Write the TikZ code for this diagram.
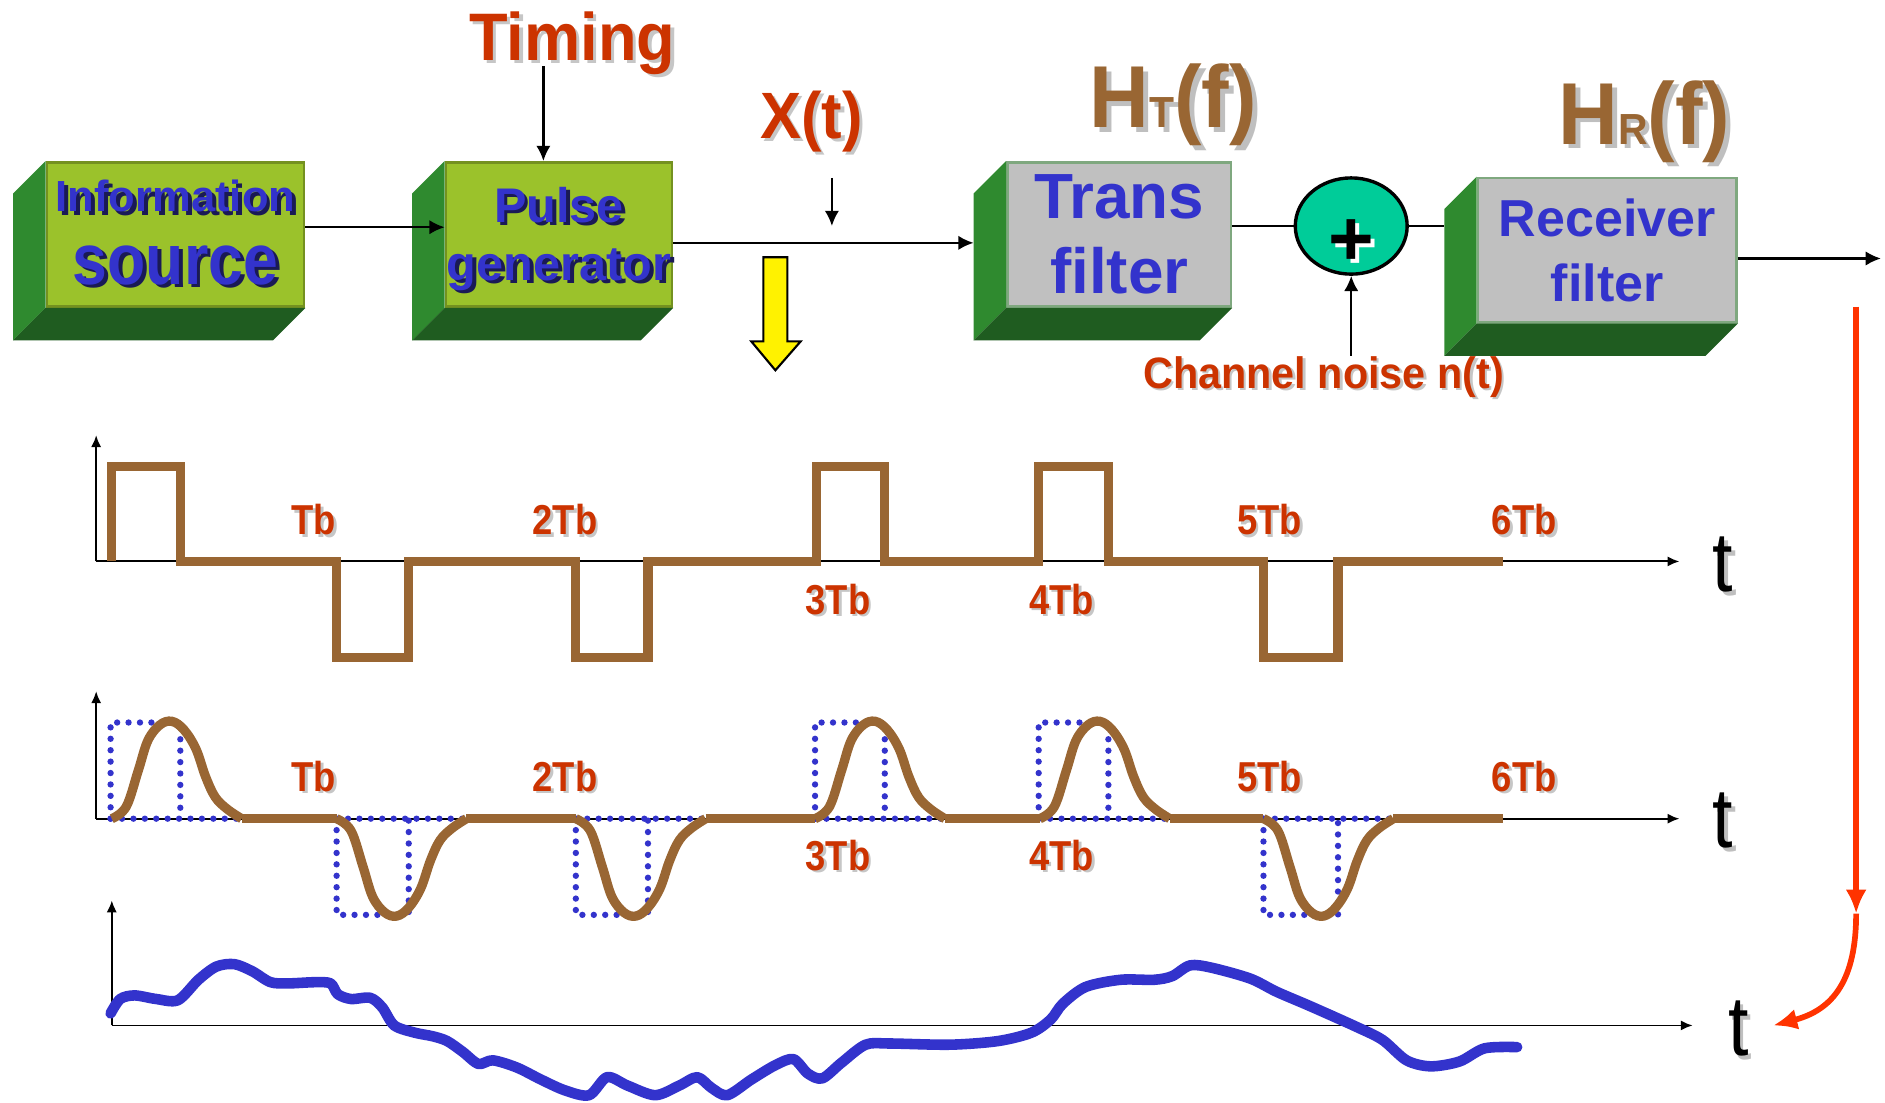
\documentclass[tikz,border=0pt]{standalone}
\usepackage{fontspec}
\setmainfont{Liberation Sans}
\newfontfamily\midsf{Liberation Sans}[FakeStretch=0.94]
\newfontfamily\narrowsf{Liberation Sans}[FakeStretch=0.87]
\usetikzlibrary{arrows.meta, positioning, calc, shapes.geometric}
\usepackage{xcolor}
\definecolor{BoxFront}{HTML}{9BC22B}
\definecolor{BoxSide}{HTML}{2F8A2F}
\definecolor{BoxBottom}{HTML}{1F5C20}
\definecolor{FilterGray}{HTML}{C0C0C0}
\definecolor{LabelRed}{HTML}{CC3300}
\definecolor{TextBlue}{HTML}{3333CC}
\definecolor{WaveBrown}{HTML}{996633}
\definecolor{SumGreen}{HTML}{00CC99}
\definecolor{ArrowRed}{HTML}{FF3300}
\definecolor{ShadowNavy}{HTML}{1A1A55}
% text with a drop shadow
\newcommand{\shad}[3][0.9pt]{\leavevmode\rlap{\kern#1\raisebox{-#1}{\textcolor{#2}{#3}}}#3}

\begin{document}
\begin{tikzpicture}[x=0.01cm, y=-0.01cm,
        box/.style={rectangle, draw=#1, line width=0.6pt, inner sep=0pt, align=center, text=TextBlue},
        greenbox/.style={box=BoxFront!75!black, fill=BoxFront, minimum height=1.2cm},
        graybox/.style={box=BoxSide!45!FilterGray, fill=FilterGray, minimum height=1.2cm},
        redlabel/.style={text=LabelRed, font=\midsf\bfseries\fontsize{15.9}{18}\selectfont, anchor=base, inner sep=0pt},
        hlabel/.style={text=WaveBrown, font=\midsf\bfseries\fontsize{20.8}{24}\selectfont, anchor=base, inner sep=0pt},
        tick/.style={text=LabelRed, font=\narrowsf\bfseries\fontsize{9.9}{12}\selectfont, anchor=base, inner sep=0pt},
        tlabel/.style={font=\narrowsf\fontsize{20}{24}\selectfont, anchor=base, inner sep=0pt},
        conn/.style={draw=black, line width=0.55pt, -{Latex[length=3.6pt,width=3.4pt]}},
        link/.style={draw=black, line width=0.55pt},
        axis/.style={draw=black, line width=0.45pt, -{Latex[length=2.8pt,width=2.4pt]}},
        redarrow/.style={draw=ArrowRed, line width=1.35pt, -{Latex[length=5.7pt,width=5pt]}},
        wave/.style={draw=WaveBrown, line width=2.2pt},
        noise/.style={draw=TextBlue, line width=2.5pt, line join=round, line cap=round},
        pulsebox/.style={draw=TextBlue, line width=1.5pt, line cap=round, dash pattern=on 0pt off 2.7pt}
    ]
        \useasboundingbox (0,0) rectangle (1568,917);

        % Blocks
        \node (src) [greenbox, minimum width=2.14cm, font=\bfseries\fontsize{10.3}{17.1}\selectfont] at (146,195)
            {\shad{ShadowNavy}{Information}\\{\narrowsf\bfseries\fontsize{17}{17.1}\selectfont\shad{ShadowNavy}{source}}};
        \node (pgen) [greenbox, minimum width=1.88cm, font=\bfseries\fontsize{11.5}{13.7}\selectfont] at (465,195)
            {\rule{0pt}{11.2pt}\shad{ShadowNavy}{Pulse}\\\shad{ShadowNavy}{generator}};
        \node (tfilt) [graybox, minimum width=1.86cm, font=\bfseries\fontsize{15.1}{17.9}\selectfont] at (931,195) {Trans\\filter};
        \node (rfilt) [graybox, minimum width=2.15cm, font=\bfseries\fontsize{12.3}{15.4}\selectfont] at (1337,208) {Receiver\\filter};
        \foreach \b in {src,pgen,tfilt,rfilt}{
            \fill[BoxSide] (\b.north west) -- (\b.south west) -- ++(-27,27) -- ([shift={(-27,27)}]\b.north west) -- cycle;
            \fill[BoxBottom] (\b.south west) -- (\b.south east) -- ++(-27,27) -- ([shift={(-27,27)}]\b.south west) -- cycle;
        }
        \node (plus) [ellipse, draw=black, line width=0.8pt, fill=SumGreen, minimum width=0.93cm, minimum height=0.8cm, inner sep=0pt,
            font=\bfseries\fontsize{18.5}{20}\selectfont] at (1124,188) {\raisebox{-3.8pt}[\height][0pt]{\shad[1pt]{white}{+}}};

        % Labels
        \node (timing) [redlabel] at (476,50) {\shad[0.8pt]{gray!45}{Timing}};
        \node (xt) [redlabel, font=\midsf\bfseries\fontsize{15.5}{18}\selectfont] at (675,115) {\shad[0.8pt]{gray!45}{X(t)}};
        \node (ht) [hlabel] at (976,106) {\shad[1.1pt]{gray!50}{H{\fontsize{10.3}{12}\selectfont T}(f)}};
        \node (hr) [hlabel] at (1368,120) {\shad[1.1pt]{gray!50}{H{\fontsize{10.3}{12}\selectfont R}(f)}};
        \node (noise) [redlabel, font=\midsf\bfseries\fontsize{10.4}{12}\selectfont] at (1101,323) {\shad[0.6pt]{gray!45}{Channel noise n(t)}};

        % Connectors
        \draw [conn] ($(src.east)+(0,-6)$) -- ($(pgen.west)+(0,-6)$);
        \draw [conn] ($(pgen.east)+(0,7)$) -- ($(tfilt.west)+(-27,7)$);
        \draw [link] ($(tfilt.east)+(0,-7)$) -- (plus.west);
        \draw [link] (plus.east) -- ($(rfilt.west)+(-27,-20)$);
        \draw [conn] ($(rfilt.east)+(0,7)$) -- ++(119,0) coordinate (out);
        \draw [conn] ($(timing.base)+(-24,5)$) -- ($(pgen.north)+(-13,0)$);
        \draw [conn] ($(xt.base)+(17,33)$) -- ($(xt.base)+(17,73)$);
        \draw [conn] (noise.north -| plus.south) -- (plus.south);
        \filldraw [fill=yellow, draw=black, line width=0.5pt] (635,214) -- (655,214) -- (655,284) -- (666,284) -- (645,308) -- (625,284) -- (635,284) -- cycle;

        % Rectangular pulses
        \draw [axis] (80,467) -- (80,362);
        \draw [axis] (80,467) -- (1397,467);
        \draw [wave] (93,467) -- (93,388) -- (150,388) -- (150,467) -- (280,467) -- (280,547) -- (340,547) -- (340,467)
            -- (479,467) -- (479,547) -- (539,547) -- (539,467) -- (679,467) -- (679,388) -- (736,388) -- (736,467)
            -- (864,467) -- (864,388) -- (922,388) -- (922,467) -- (1051,467) -- (1051,547) -- (1113,547) -- (1113,467) -- (1250,467);
        \node (t1) [tlabel] at (1433,492) {\shad{gray!50}{t}};

        % Shaped pulses
        \draw [axis] (80,681) -- (80,575);
        \draw [axis] (80,681) -- (1397,681);
        \foreach \s/\w/\dir in {92/58/-1, 280/60/1, 479/60/1, 678/58/-1, 864/58/-1, 1051/62/1}{
            \draw [pulsebox] (\s,681) -- (\s,{681+80*\dir}) -- ({\s+\w},{681+80*\dir}) -- ({\s+\w},681);
            \draw [pulsebox] (\s,681) -- ({\s+105},681);
        }
        \foreach \s/\dir in {93/-1, 280/1, 479/1, 678/-1, 865/-1, 1051/1}{
            \begin{scope}[shift={(\s,681)}, yscale=\dir]
                \draw [wave] plot[smooth, tension=0.6] coordinates {(0,0) (12,10) (22,40) (30,65) (40,78) (50,81) (60,74) (70,58) (78,35) (86,18) (96,8) (108,0)};
            \end{scope}
        }
        \draw [wave] (201,681) -- (280,681) (388,681) -- (479,681) (587,681) -- (678,681)
            (786,681) -- (865,681) (973,681) -- (1051,681) (1159,681) -- (1250,681);
        \node (t2) [tlabel] at (1433,705) {\shad{gray!50}{t}};

        % Time marks
        \foreach \yb in {445,658}{
            \foreach \lab/\x/\dy in {Tb/261/0, 2Tb/470/0, 3Tb/697/66, 4Tb/883/66, 5Tb/1056/0, 6Tb/1268/0}{
                \node (m\yb-\x) [tick] at (\x,\yb+\dy) {\shad[0.6pt]{gray!45}{\lab}};
            }
        }

        % Received signal
        \draw [axis] (93,853) -- (93,749);
        \draw [axis] (93,853) -- (1408,853);
        \draw [noise] plot[smooth, tension=0.5] coordinates {(92,843) (100,831) (112,828) (130,831) (148,832) (165,815) (180,804)
            (195,802) (210,808) (225,817) (240,818) (262,817) (275,818) (281,827) (292,831) (308,830) (318,838) (328,853)
            (345,859) (360,862) (372,866) (385,875) (398,885) (410,882) (430,888) (450,898) (470,907) (490,911) (505,896)
            (522,903) (545,911) (565,903) (580,896) (592,905) (605,911) (625,898) (645,886) (660,881) (672,893) (684,897)
            (700,884) (720,869) (740,868) (790,869) (830,866) (858,859) (874,848) (884,835) (903,821) (932,815) (960,815)
            (975,812) (990,803) (1008,805) (1040,814) (1062,825) (1090,837) (1128,854) (1150,865) (1170,882) (1190,887)
            (1214,883) (1235,872) (1262,871)};
        \node (t3) [tlabel] at (1446,878) {\shad{gray!50}{t}};

        % Red pointer
        \coordinate (redtop) at (1544,255);
        \coordinate (redmid) at (1544,760);
        \coordinate (redend) at (1475,853);
        \draw [redarrow] (redtop) -- (redmid);
        \draw [redarrow] (redmid) .. controls (1544,815) and (1525,840) .. (redend);
\end{tikzpicture}
\end{document}
